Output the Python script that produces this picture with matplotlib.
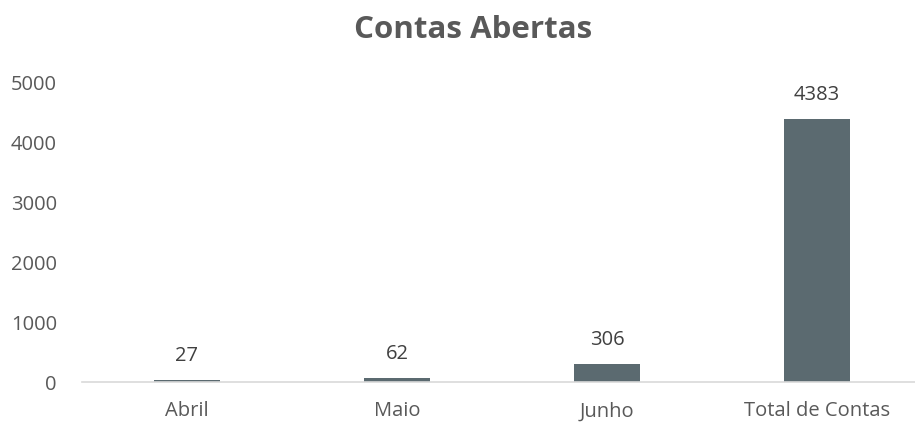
import matplotlib.pyplot as plt

plt.rcParams['font.family'] = ['Open Sans', 'DejaVu Sans']

categorias = ['Abril', 'Maio', 'Junho', 'Total de Contas']
contas = [27, 62, 306, 4383]
y_ticks = [0, 1000, 2000, 3000, 4000, 5000]

fig = plt.figure(figsize=(9.15, 4.23), dpi=100)
ax = fig.add_axes([82 / 915, 41 / 423, 840 / 915, 300 / 423])

x = range(len(categorias))
bars = ax.bar(x, contas, width=0.31, color='#5B6A70')

for b, v in zip(bars, contas):
    ax.annotate(str(v), (b.get_x() + b.get_width() / 2, v), xytext=(0, 10),
                textcoords='offset points', ha='center', va='bottom',
                fontsize=14.5, color='#404040')

ax.set_xlim(-0.5, 3.5)
ax.set_ylim(0, 5000)
ax.set_xticks(list(x))
ax.set_xticklabels(categorias)
ax.set_yticks(y_ticks)

for s in ['top', 'right', 'left']:
    ax.spines[s].set_visible(False)
ax.spines['bottom'].set_color('#D9D9D9')
ax.spines['bottom'].set_linewidth(1.2)
ax.tick_params(axis='both', length=0, labelsize=14.5, colors='#595959')
ax.tick_params(axis='x', pad=14)
ax.tick_params(axis='y', pad=18)

# titulo levemente deslocado para a direita, como no original
fig.text(473.5 / 915, 1 - 30 / 423, 'Contas Abertas', ha='center', va='center',
         fontsize=22.5, fontweight='bold', color='#595959')

fig.savefig('out.png', dpi=100)
